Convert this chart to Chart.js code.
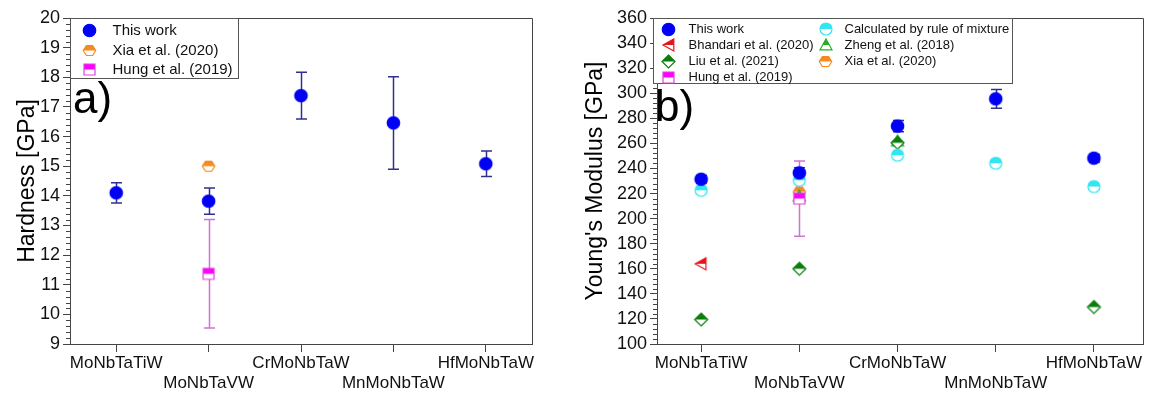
<!DOCTYPE html>
<html><head><meta charset="utf-8">
<script src="https://cdn.jsdelivr.net/npm/chart.js@4.4.0/dist/chart.umd.min.js"></script>
<style>
html,body{margin:0;padding:0;background:#fff;}
#wrap{position:relative;width:1150px;height:394px;overflow:hidden;background:#fff;}
canvas{position:absolute;top:0;}
</style></head><body>
<div id="wrap">
<canvas id="c1" width="580" height="394" style="left:0"></canvas>
<canvas id="c2" width="570" height="394" style="left:580px"></canvas>
</div>
<script>
// ---------- DATA ----------
const categories = ['MoNbTaTiW', 'MoNbTaVW', 'CrMoNbTaW', 'MnMoNbTaW', 'HfMoNbTaW'];

// (a) Hardness [GPa]
const hardnessThisWork    = [14.10, 13.82, 17.38, 16.46, 15.08];
const hardnessThisWorkErr = [0.34, 0.44, 0.79, 1.56, 0.43];
const hardnessXia         = [null, 15.00, null, null, null];
const hardnessHung        = [null, 11.37, null, null, null];
const hardnessHungErr     = [null, 1.83, null, null, null];
const hardnessTicks = { min: 9, max: 20, step: 1, minor: 0.2 };

// (b) Young's Modulus [GPa]
const modulusThisWork     = [231.4, 236.5, 273.8, 295.5, 248.2];
const modulusThisWorkErr  = [3, 4, 4.5, 7.5, 3];
const modulusRuleMixture  = [222.6, 230.6, 250.6, 244.2, 225.6];
const modulusBhandari     = [164, null, null, null, null];
const modulusLiu          = [119.5, 160, 260.5, null, 129.5];
const modulusZheng        = [null, 218, 262, null, null];
const modulusXia          = [null, 221.3, null, null, null];
const modulusHung         = [null, 216, null, null, null];
const modulusHungErr      = [null, 30, null, null, null];
const modulusTicks = { min: 100, max: 360, step: 20, minor: 4 };

// ---------- STYLE ----------
const FONT = "'Liberation Sans', Arial, Helvetica, sans-serif";
const AXIS = '#444';
const C = {
  blue: '#0000f5', navy: '#30308f', orange: '#f58a1f', magenta: '#ff00ff', magEdge: '#e040e0',
  orchid: '#cf72d4', cyan: '#30e6f0', red: '#e8141b', green: '#0b7d0b', lgreen: '#22b022'
};

function marker(shape, color, size, half, edge) {
  const pad = 2, w = Math.ceil(size + pad * 2);
  const c = document.createElement('canvas');
  c.width = w; c.height = w;
  const g = c.getContext('2d');
  const cx = w / 2, cy = w / 2, r = size / 2;
  const path = () => {
    g.beginPath();
    if (shape === 'circle') g.arc(cx, cy, r, 0, Math.PI * 2);
    else if (shape === 'square') g.rect(cx - r, cy - r, 2 * r, 2 * r);
    else if (shape === 'hex') { for (let k = 0; k < 6; k++) { const a = k * Math.PI / 3; const px = cx + r * Math.cos(a), py = cy + r * 0.92 * Math.sin(a); k ? g.lineTo(px, py) : g.moveTo(px, py); } }
    else if (shape === 'diamond') { g.moveTo(cx, cy - r); g.lineTo(cx + r, cy); g.lineTo(cx, cy + r); g.lineTo(cx - r, cy); }
    else if (shape === 'triUp') { g.moveTo(cx, cy - r); g.lineTo(cx + r, cy + r * 0.8); g.lineTo(cx - r, cy + r * 0.8); }
    else if (shape === 'triLeft') { g.moveTo(cx - r, cy); g.lineTo(cx + r * 0.8, cy - r); g.lineTo(cx + r * 0.8, cy + r); }
    g.closePath();
  };
  if (half) {
    path(); g.fillStyle = '#fff'; g.fill();
    g.save(); g.beginPath(); g.rect(0, 0, w, cy); g.clip(); path(); g.fillStyle = color; g.fill(); g.restore();
  } else { path(); g.fillStyle = color; g.fill(); }
  path(); g.strokeStyle = edge || color; g.lineWidth = 1.2; g.stroke();
  return c;
}

const M = {
  thisWork: marker('circle', C.blue, 12.5, false),
  xia: marker('hex', C.orange, 12.5, true),
  hung: marker('square', C.magenta, 11, true, C.magEdge),
  rule: marker('circle', C.cyan, 12, true),
  bhandari: marker('triLeft', C.red, 12, true),
  liu: marker('diamond', C.green, 13, true),
  zheng: marker('triUp', C.lgreen, 12, true)
};

function pts(vals) {
  const out = [];
  vals.forEach((v, i) => { if (v !== null) out.push({ x: i, y: v }); });
  return out;
}
function ds(label, vals, style, err, errColor) {
  return { label, data: pts(vals), pointStyle: style, pointRadius: 6, pointHoverRadius: 6,
           showLine: false, errorValues: err || null, errorColor: errColor || null };
}

const errorBarPlugin = {
  id: 'errorBars',
  beforeDatasetsDraw(chart) {
    const ctx = chart.ctx, xs = chart.scales.x, ys = chart.scales.y;
    chart.data.datasets.forEach(d => {
      if (!d.errorValues) return;
      d.data.forEach(p => {
        const e = d.errorValues[p.x];
        if (e == null) return;
        const x = Math.round(xs.getPixelForValue(p.x)) + 0.5;
        const y1 = ys.getPixelForValue(p.y + e), y2 = ys.getPixelForValue(p.y - e);
        ctx.save();
        ctx.strokeStyle = d.errorColor; ctx.lineWidth = 1.5;
        ctx.beginPath();
        ctx.moveTo(x, y1); ctx.lineTo(x, y2);
        ctx.moveTo(x - 5.5, y1); ctx.lineTo(x + 5.5, y1);
        ctx.moveTo(x - 5.5, y2); ctx.lineTo(x + 5.5, y2);
        ctx.stroke(); ctx.restore();
      });
    });
  }
};

function framePlugin(spec) {
  return {
    id: 'frame' + spec.tag,
    afterDraw(chart) {
      const ctx = chart.ctx, a = chart.chartArea, ys = chart.scales.y;
      ctx.save();
      // minor ticks
      ctx.strokeStyle = AXIS; ctx.lineWidth = 1;
      ctx.beginPath();
      const t = spec.ticks;
      for (let v = t.min; v <= t.max + 1e-9; v += t.minor) {
        const rel = (v - t.min) / t.step;
        if (Math.abs(rel - Math.round(rel)) < 1e-6) continue;
        const y = Math.round(ys.getPixelForValue(v)) + 0.5;
        ctx.moveTo(a.left - 4, y); ctx.lineTo(a.left, y);
      }
      ctx.stroke();
      // box
      ctx.beginPath();
      ctx.rect(Math.round(a.left) + 0.5, Math.round(a.top) + 0.5, Math.round(a.right - a.left), Math.round(a.bottom - a.top));
      ctx.stroke();
      // legend
      const L = spec.legend;
      const bx = Math.round(a.left) + 0.5 + L.dx, by = Math.round(a.top) + 0.5;
      ctx.fillStyle = '#fff';
      ctx.fillRect(bx, by, L.w, L.h);
      ctx.strokeStyle = '#555'; ctx.lineWidth = 1;
      ctx.strokeRect(bx, by, L.w, L.h);
      ctx.font = L.font + 'px ' + FONT;
      ctx.fillStyle = '#111'; ctx.textBaseline = 'middle'; ctx.textAlign = 'left';
      L.items.forEach(it => {
        const d = chart.data.datasets[it.ds];
        const col = L.cols[it.col];
        const y = by + L.row0 + it.row * L.rowH;
        const img = d.pointStyle;
        ctx.drawImage(img, Math.round(bx + col.mx - img.width / 2), Math.round(y - img.height / 2));
        ctx.fillText(d.label, bx + col.tx, y + 0.5);
      });
      // panel label
      ctx.font = spec.panel.size + 'px ' + FONT;
      ctx.fillStyle = '#000'; ctx.textBaseline = 'alphabetic';
      ctx.fillText(spec.panel.text, a.left + spec.panel.dx, spec.panel.y);
      ctx.restore();
    }
  };
}

function makeChart(id, spec) {
  return new Chart(document.getElementById(id), {
    type: 'scatter',
    data: { datasets: spec.datasets },
    options: {
      responsive: false, animation: false, devicePixelRatio: 1,
      layout: { padding: spec.padding },
      plugins: { legend: { display: false }, tooltip: { enabled: false } },
      scales: {
        x: {
          type: 'linear', min: spec.xmin, max: spec.xmax,
          afterBuildTicks: s => { s.ticks = categories.map((c, i) => ({ value: i })); },
          afterFit: s => { s.height = 50; },
          ticks: {
            autoSkip: false, maxRotation: 0, minRotation: 0, padding: 1, color: '#111',
            font: { family: FONT, size: 17 }, lineHeight: 1.2,
            callback: v => (Number.isInteger(v) && categories[v] !== undefined) ? (v % 2 ? ['', categories[v]] : categories[v]) : ''
          },
          grid: { display: true, drawOnChartArea: false, drawTicks: true, tickLength: 8, color: AXIS, lineWidth: 1 },
          border: { display: true, color: AXIS, width: 1 }
        },
        y: {
          type: 'linear', min: spec.ticks.min, max: spec.ticks.max,
          afterFit: s => { s.width = spec.yWidth; },
          ticks: { stepSize: spec.ticks.step, padding: 3, color: '#111', font: { family: FONT, size: 18 } },
          grid: { display: true, drawOnChartArea: false, drawTicks: true, tickLength: 7, color: AXIS, lineWidth: 1 },
          border: { display: true, color: AXIS, width: 1 },
          title: { display: true, text: spec.yTitle, color: '#000', font: { family: FONT, size: 23 }, padding: { top: spec.titlePad, bottom: 0 } }
        }
      }
    },
    plugins: [errorBarPlugin, framePlugin(spec)]
  });
}

makeChart('c1', {
  tag: 'a',
  datasets: [
    ds('This work', hardnessThisWork, M.thisWork, hardnessThisWorkErr, C.navy),
    ds('Xia et al. (2020)', hardnessXia, M.xia),
    ds('Hung et al. (2019)', hardnessHung, M.hung, hardnessHungErr, C.orchid)
  ],
  padding: { left: 0, right: 48, top: 18, bottom: 0 },
  xmin: -0.5, xmax: 4.5, yWidth: 70, titlePad: 14,
  ticks: hardnessTicks, yTitle: 'Hardness [GPa]',
  legend: { dx: 0, w: 168, h: 60, font: 15, row0: 12, rowH: 19.5,
            cols: [{ mx: 19, tx: 42 }],
            items: [{ ds: 0, col: 0, row: 0 }, { ds: 1, col: 0, row: 1 }, { ds: 2, col: 0, row: 2 }] },
  panel: { text: 'a)', size: 44, dx: 3, y: 113 }
});

makeChart('c2', {
  tag: 'b',
  datasets: [
    ds('This work', modulusThisWork, M.thisWork, modulusThisWorkErr, C.navy),
    ds('Calculated by rule of mixture', modulusRuleMixture, M.rule),
    ds('Bhandari et al. (2020)', modulusBhandari, M.bhandari),
    ds('Liu et al. (2021)', modulusLiu, M.liu),
    ds('Hung et al. (2019)', modulusHung, M.hung, modulusHungErr, C.orchid),
    ds('Zheng et al. (2018)', modulusZheng, M.zheng),
    ds('Xia et al. (2020)', modulusXia, M.xia)
  ],
  padding: { left: 0, right: 3, top: 18, bottom: 0 },
  xmin: -0.45, xmax: 4.5, yWidth: 77, titlePad: 2,
  ticks: modulusTicks, yTitle: "Young's Modulus [GPa]",
  legend: { dx: -4, w: 359, h: 65, font: 13, row0: 10.5, rowH: 16,
            cols: [{ mx: 15, tx: 35 }, { mx: 172, tx: 191 }],
            items: [{ ds: 0, col: 0, row: 0 }, { ds: 2, col: 0, row: 1 }, { ds: 3, col: 0, row: 2 }, { ds: 4, col: 0, row: 3 },
                    { ds: 1, col: 1, row: 0 }, { ds: 5, col: 1, row: 1 }, { ds: 6, col: 1, row: 2 }] },
  panel: { text: 'b)', size: 44, dx: -2, y: 121 }
});
</script>
</body></html>
